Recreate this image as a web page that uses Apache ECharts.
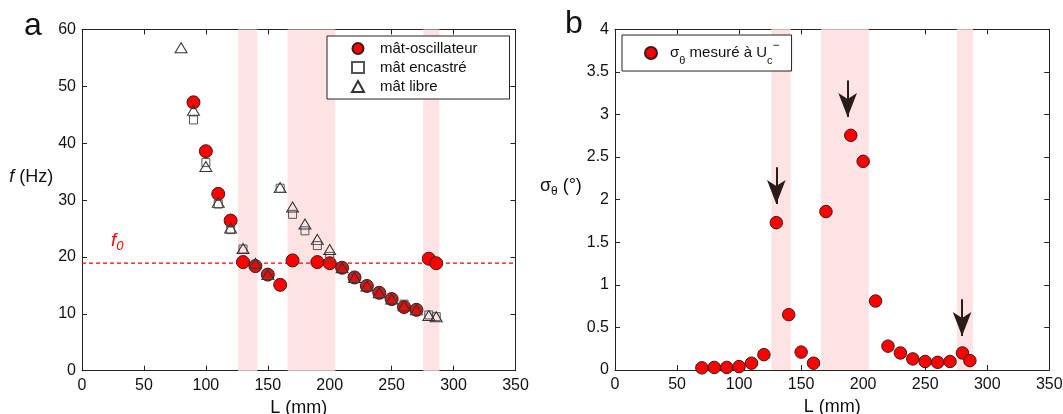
<!DOCTYPE html>
<html><head><meta charset="utf-8">
<script src="https://cdn.jsdelivr.net/npm/echarts@6/dist/echarts.min.js"></script>
<style>html,body{margin:0;padding:0;background:#fff}#c{width:1063px;height:414px}</style>
</head><body><div id="c"></div>
<script>
// ---- data ----
const L_osc = [90,100,110,120,130,140,150,160,170,190,200,210,220,230,240,250,260,270,280,286];
const f_osc = [47.2,38.6,31.1,26.4,19.1,18.4,16.9,15.1,19.4,19.1,18.9,18.1,16.4,14.9,13.7,12.6,11.2,10.7,19.7,18.9];
const L_enc = [90,100,110,120,130,140,150,160,170,180,190,200,210,220,230,240,250,260,270,280,286];
const f_enc = [44.1,36.6,29.3,24.8,21.4,18.6,16.9,32.1,27.5,24.6,22.0,20.1,18.1,16.4,14.9,13.7,12.6,11.7,10.7,9.8,9.5];
const L_lib = [80,90,100,110,120,130,140,150,160,170,180,190,200,210,220,230,240,250,260,270,280,286];
const f_lib = [56.8,45.8,35.9,29.6,25.1,21.5,18.9,16.9,32.2,28.8,25.8,23.1,21.3,18.1,16.4,14.9,13.7,12.6,11.4,10.7,9.7,9.5];
const f0 = 18.9;
const L_sig = [70,80,90,100,110,120,130,140,150,160,170,190,200,210,220,230,240,250,260,270,280,286];
const sig = [0.025,0.03,0.03,0.04,0.08,0.18,1.73,0.65,0.21,0.08,1.86,2.755,2.45,0.81,0.28,0.20,0.13,0.10,0.09,0.10,0.20,0.11];
const bands = [[126,141.5],[166,204.5],[275.5,288.5]];
const arrows = [[130,2.38,1.95],[187.5,3.40,2.97],[279.7,0.83,0.40]]; // [L, tail, tip]
const xRange = [0,350,50];
const yRangeA = [0,60,10];
const yRangeB = [0,4,0.5];

const FONT = 'Liberation Sans, Arial, Helvetica, sans-serif';
const zip = (a,b) => a.map((v,i)=>[v,b[i]]);
const bandArea = bands.map(b => [{xAxis:b[0]},{xAxis:b[1]}]);
const BAND_COLOR = '#fde3e3';

function xAx(grid, pos, showLabel, name){
  return {type:'value', gridIndex:grid, position:pos, min:xRange[0], max:xRange[1], interval:xRange[2],
    axisLine:{show:true, onZero:false, lineStyle:{color:'#222', width:1}},
    axisTick:{show:true, inside:true, length:5, lineStyle:{color:'#222'}},
    axisLabel:{show:showLabel, color:'#111', fontSize:16, fontFamily:FONT, margin:7},
    splitLine:{show:false},
    name: name||'', nameLocation:'middle', nameGap:26,
    nameTextStyle:{fontSize:18, color:'#111', fontFamily:FONT}};
}
function yAx(grid, pos, r, showLabel, name, rich, lift){
  return {type:'value', gridIndex:grid, position:pos, min:r[0], max:r[1], interval:r[2],
    axisLine:{show:true, onZero:false, lineStyle:{color:'#222', width:1}},
    axisTick:{show:true, inside:true, length:5, lineStyle:{color:'#222'}},
    axisLabel:{show:showLabel, color:'#111', fontSize:16, fontFamily:FONT, margin:6},
    splitLine:{show:false},
    name: name||'', nameLocation:'middle', nameRotate:0, nameGap:25,
    nameTextStyle:{fontSize:18, color:'#111', fontFamily:FONT, rich:rich||{}, padding:[0,0,lift||0,0]}};
}

const richSub = {
  t:{fontSize:18, fontFamily:FONT, color:'#111', lineHeight:24},
  i:{fontSize:18, fontFamily:FONT, color:'#111', fontStyle:'italic', lineHeight:24},
  sb:{fontSize:12, fontFamily:FONT, color:'#111', verticalAlign:'bottom', lineHeight:12}
};

const option = {
  animation:false,
  backgroundColor:'#fff',
  textStyle:{fontFamily:FONT},
  grid:[
    {left:82, top:29.5, width:433.5, height:341.2, outerBoundsMode:'none', containLabel:false},
    {left:615, top:29.3, width:434.3, height:340.7, outerBoundsMode:'none', containLabel:false}
  ],
  xAxis:[ xAx(0,'bottom',true,'L (mm)'), xAx(0,'top',false), xAx(1,'bottom',true,'L (mm)'), xAx(1,'top',false) ],
  yAxis:[ yAx(0,'left',yRangeA,true,'{i|f}{t| (Hz)}',richSub,46), yAx(0,'right',yRangeA,false),
          yAx(1,'left',yRangeB,true,'{t|σ}{sb|θ}{t| (°)}',richSub,28), yAx(1,'right',yRangeB,false) ],
  legend:[
    {orient:'vertical', left:327, top:36, padding:[5,32,5,24], itemWidth:12, itemHeight:11, itemGap:4,
     borderColor:'#222', borderWidth:1, backgroundColor:'#fff',
     data:['mât-oscillateur','mât encastré','mât libre'],
     textStyle:{fontSize:15, color:'#111', fontFamily:FONT, padding:[0,0,0,11]}},
    {orient:'vertical', left:622, top:35, padding:[5,12,5,22], itemWidth:12, itemHeight:12,
     borderColor:'#222', borderWidth:1, backgroundColor:'#fff',
     data:['sigma'],
     formatter:()=>'{t|σ}{sb|θ}{t| mesuré à U}{sb|c}{sp|−}',
     textStyle:{fontSize:15, color:'#111', fontFamily:FONT, padding:[0,0,0,8],
       rich:{t:{fontSize:15, fontFamily:FONT, color:'#111', lineHeight:26},
             sb:{fontSize:11, fontFamily:FONT, color:'#111', verticalAlign:'bottom', lineHeight:11},
             sp:{fontSize:12, fontFamily:FONT, color:'#111', verticalAlign:'top', lineHeight:12}}}}
  ],
  graphic:[
    {type:'text', left:24, top:10, style:{text:'a', font:'32px '+FONT, fill:'#111'}},
    {type:'text', left:565, top:8, style:{text:'b', font:'32px '+FONT, fill:'#111'}},
    {type:'text', left:111, top:231, style:{text:'{i|f}{s|0}', fill:'#f00',
      rich:{i:{fontSize:19, fontStyle:'italic', fontFamily:FONT, fill:'#f00', lineHeight:24},
            s:{fontSize:13, fontStyle:'italic', fontFamily:FONT, fill:'#f00', verticalAlign:'bottom', lineHeight:13}}}}
  ],
  series:[
    {type:'scatter', name:'bandsA', xAxisIndex:0, yAxisIndex:0, data:[], z:1,
     markArea:{silent:true, itemStyle:{color:BAND_COLOR}, data:bandArea}},
    {type:'scatter', name:'bandsB', xAxisIndex:2, yAxisIndex:2, data:[], z:1,
     markArea:{silent:true, itemStyle:{color:BAND_COLOR}, data:bandArea}},
    {type:'line', name:'f0line', xAxisIndex:0, yAxisIndex:0, z:2, silent:true,
     data:[[xRange[0],f0],[xRange[1],f0]], symbol:'none', showSymbol:false,
     itemStyle:{color:'#ff0000'},
     lineStyle:{color:'#ff0000', type:[4,3], width:1.2, opacity:1}},
    {type:'scatter', name:'mât-oscillateur', xAxisIndex:0, yAxisIndex:0, data:zip(L_osc,f_osc), z:3,
     symbol:'circle', symbolSize:13,
     itemStyle:{color:'#ff0000', borderColor:'#3a1a1a', borderWidth:1, opacity:1}},
    {type:'scatter', name:'mât encastré', xAxisIndex:0, yAxisIndex:0, data:zip(L_enc,f_enc), z:4,
     symbol:'rect', symbolSize:8,
     itemStyle:{color:'rgba(0,0,0,0)', borderColor:'#555', borderWidth:1, opacity:1}},
    {type:'scatter', name:'mât libre', xAxisIndex:0, yAxisIndex:0, data:zip(L_lib,f_lib), z:5,
     symbol:'triangle', symbolSize:[12,10],
     itemStyle:{color:'rgba(0,0,0,0)', borderColor:'#333', borderWidth:1, opacity:1}},
    {type:'scatter', name:'sigma', xAxisIndex:2, yAxisIndex:2, data:zip(L_sig,sig), z:3,
     symbol:'circle', symbolSize:12.5,
     itemStyle:{color:'#ff0000', borderColor:'#3a1a1a', borderWidth:1, opacity:1},
     markLine:{silent:true, symbol:['none','arrow'], symbolSize:[14,24],
       label:{show:false}, lineStyle:{color:'#2b1a1a', type:'solid', width:2, opacity:1},
       data: arrows.map(a => [{coord:[a[0],a[1]]},{coord:[a[0],a[2]]}])}}
  ]
};
echarts.init(document.getElementById('c')).setOption(option);
</script></body></html>
